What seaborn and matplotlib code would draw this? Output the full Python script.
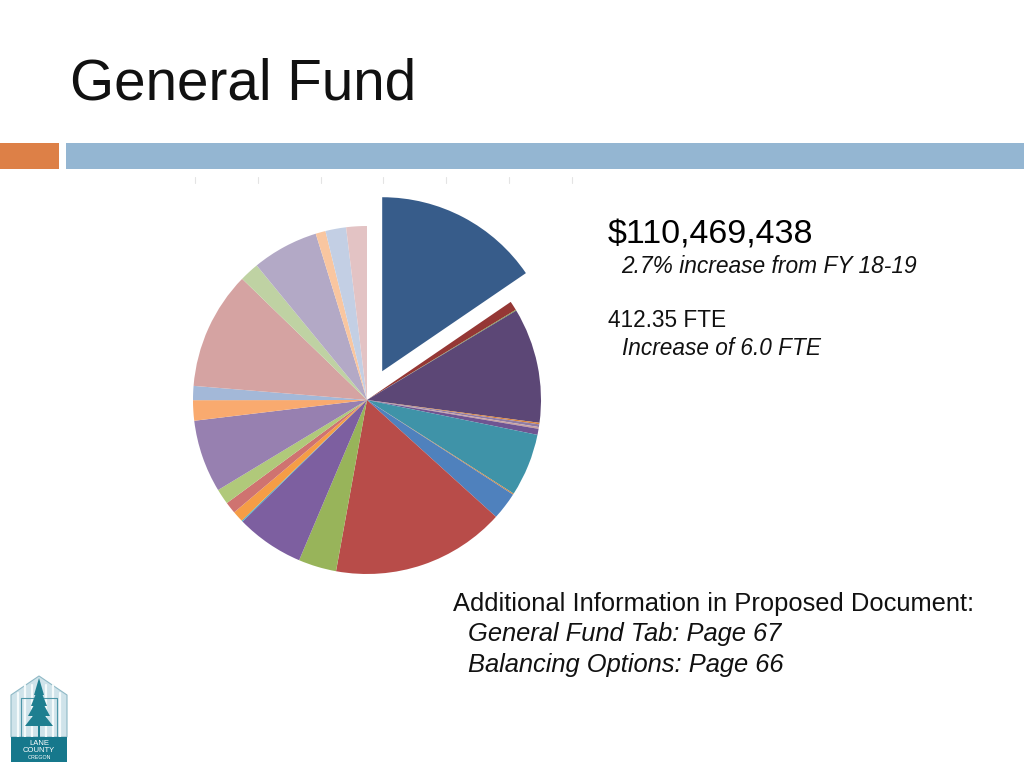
import matplotlib
matplotlib.use('Agg')
import matplotlib.pyplot as plt
from matplotlib.patches import Polygon, Rectangle
import seaborn as sns

# share of the fund per slice, clockwise from 12 o'clock
shares = [15.47, 0.86, 0.08, 10.69, 0.14, 0.25, 0.17, 0.56, 5.83, 0.11, 2.56,
          16.14, 3.53, 6.31, 0.11, 1.03, 1.08, 1.44, 6.75, 1.89, 1.31,
          10.97, 1.81, 6.17, 0.92, 1.92, 1.92]
slice_colors = ['#375C8A', '#953735', '#7F9A48', '#5C4776', '#D9833C', '#8E7BA6', '#C9A0A0',
                '#6F5592', '#3F93A8', '#C98A4B', '#4F81BD',
                '#B84C49', '#98B45A', '#7D5FA0', '#46AAC5', '#F59D46', '#CF7370', '#B0C97A',
                '#9780B0', '#F9AA6F', '#A3B8D8',
                '#D5A3A2', '#BFD2A3', '#B3A9C6', '#F9C6A0', '#C3CFE4', '#E3C3C4']
explode = [0.187] + [0] * (len(shares) - 1)

title = 'General Fund'
total = '$110,469,438'
increase = '2.7% increase from FY 18-19'
fte = '412.35 FTE'
fte_increase = 'Increase of 6.0 FTE'
info = 'Additional Information in Proposed Document:'
info_lines = ['General Fund Tab: Page 67', 'Balancing Options: Page 66']

sns.set_theme(style='white')
plt.rcParams['font.family'] = ['Liberation Sans', 'DejaVu Sans']

W, H = 1024, 768
fig = plt.figure(figsize=(W / 100, H / 100), dpi=100, facecolor='white')

# page layer in pixel coords
bg = fig.add_axes([0, 0, 1, 1])
bg.set_xlim(0, W)
bg.set_ylim(H, 0)
bg.axis('off')

bg.add_patch(Rectangle((0, 143), 59, 26, color='#DD8047', lw=0))
bg.add_patch(Rectangle((66, 143), W - 66, 26, color='#94B6D2', lw=0))

for x in [195, 258, 321, 383, 446, 509, 572]:
    bg.plot([x, x], [177, 183], color='#e4e4e4', lw=0.8)

bg.text(70, 100, title, fontsize=40.8, color='#111111', va='baseline')
bg.text(608, 243, total, fontsize=24.5, color='black', va='baseline')
bg.text(621, 273, increase, fontsize=16.4, style='italic', color='#111111', va='baseline')
bg.text(608, 327, fte, fontsize=16.3, color='#111111', va='baseline')
bg.text(622, 355, fte_increase, fontsize=16.3, style='italic', color='#111111', va='baseline')
bg.text(453, 611, info, fontsize=18.4, color='#111111', va='baseline')
bg.text(468, 641, info_lines[0], fontsize=18.4, style='italic', color='#111111', va='baseline')
bg.text(468, 672, info_lines[1], fontsize=18.4, style='italic', color='#111111', va='baseline')

# logo, rough shape of the county mark
bg.add_patch(Polygon([(11, 737), (11, 695), (39, 676), (67, 695), (67, 737)],
                     closed=True, fc='#CFE3EA', ec='#8FB9C6', lw=0.8))
for x in [18, 25, 32, 46, 53, 60]:
    bg.plot([x, x], [693 if x in (18, 60) else 685, 737], color='#F4FAFB', lw=1.6)
bg.plot([21, 21, 57, 57], [737, 698, 698, 737], color='#4E97A8', lw=0.8)
for top, bot, half in [(678, 695, 5), (686, 706, 8), (696, 716, 11), (708, 726, 14)]:
    bg.add_patch(Polygon([(39, top), (39 - half, bot), (39 + half, bot)],
                         closed=True, fc='#1F7F90', lw=0, zorder=4))
bg.add_patch(Rectangle((38.2, 725), 1.6, 12, color='#1F7F90', lw=0, zorder=4))
bg.add_patch(Rectangle((11, 737), 56, 25, color='#16788C', lw=0, zorder=4))
bg.text(39, 745, 'LANE', fontsize=5.5, color='white', ha='center', va='baseline', zorder=5)
bg.text(39, 752, 'COUNTY', fontsize=5.5, color='white', ha='center', va='baseline', zorder=5)
bg.text(39, 759, 'OREGON', fontsize=3.8, color='white', ha='center', va='baseline', zorder=5)

# pie centred on (367, 400), radius 174 px
cx, cy, r = 367, 400, 174
box = 1.25 * r
ax = fig.add_axes([(cx - box) / W, (H - cy - box) / H, 2 * box / W, 2 * box / H])
ax.patch.set_alpha(0)
ax.pie(shares, colors=slice_colors, explode=explode, startangle=90,
       counterclock=False, radius=1, wedgeprops={'linewidth': 0})
ax.set_xlim(-1.25, 1.25)
ax.set_ylim(-1.25, 1.25)

fig.savefig('out.png', dpi=100)
